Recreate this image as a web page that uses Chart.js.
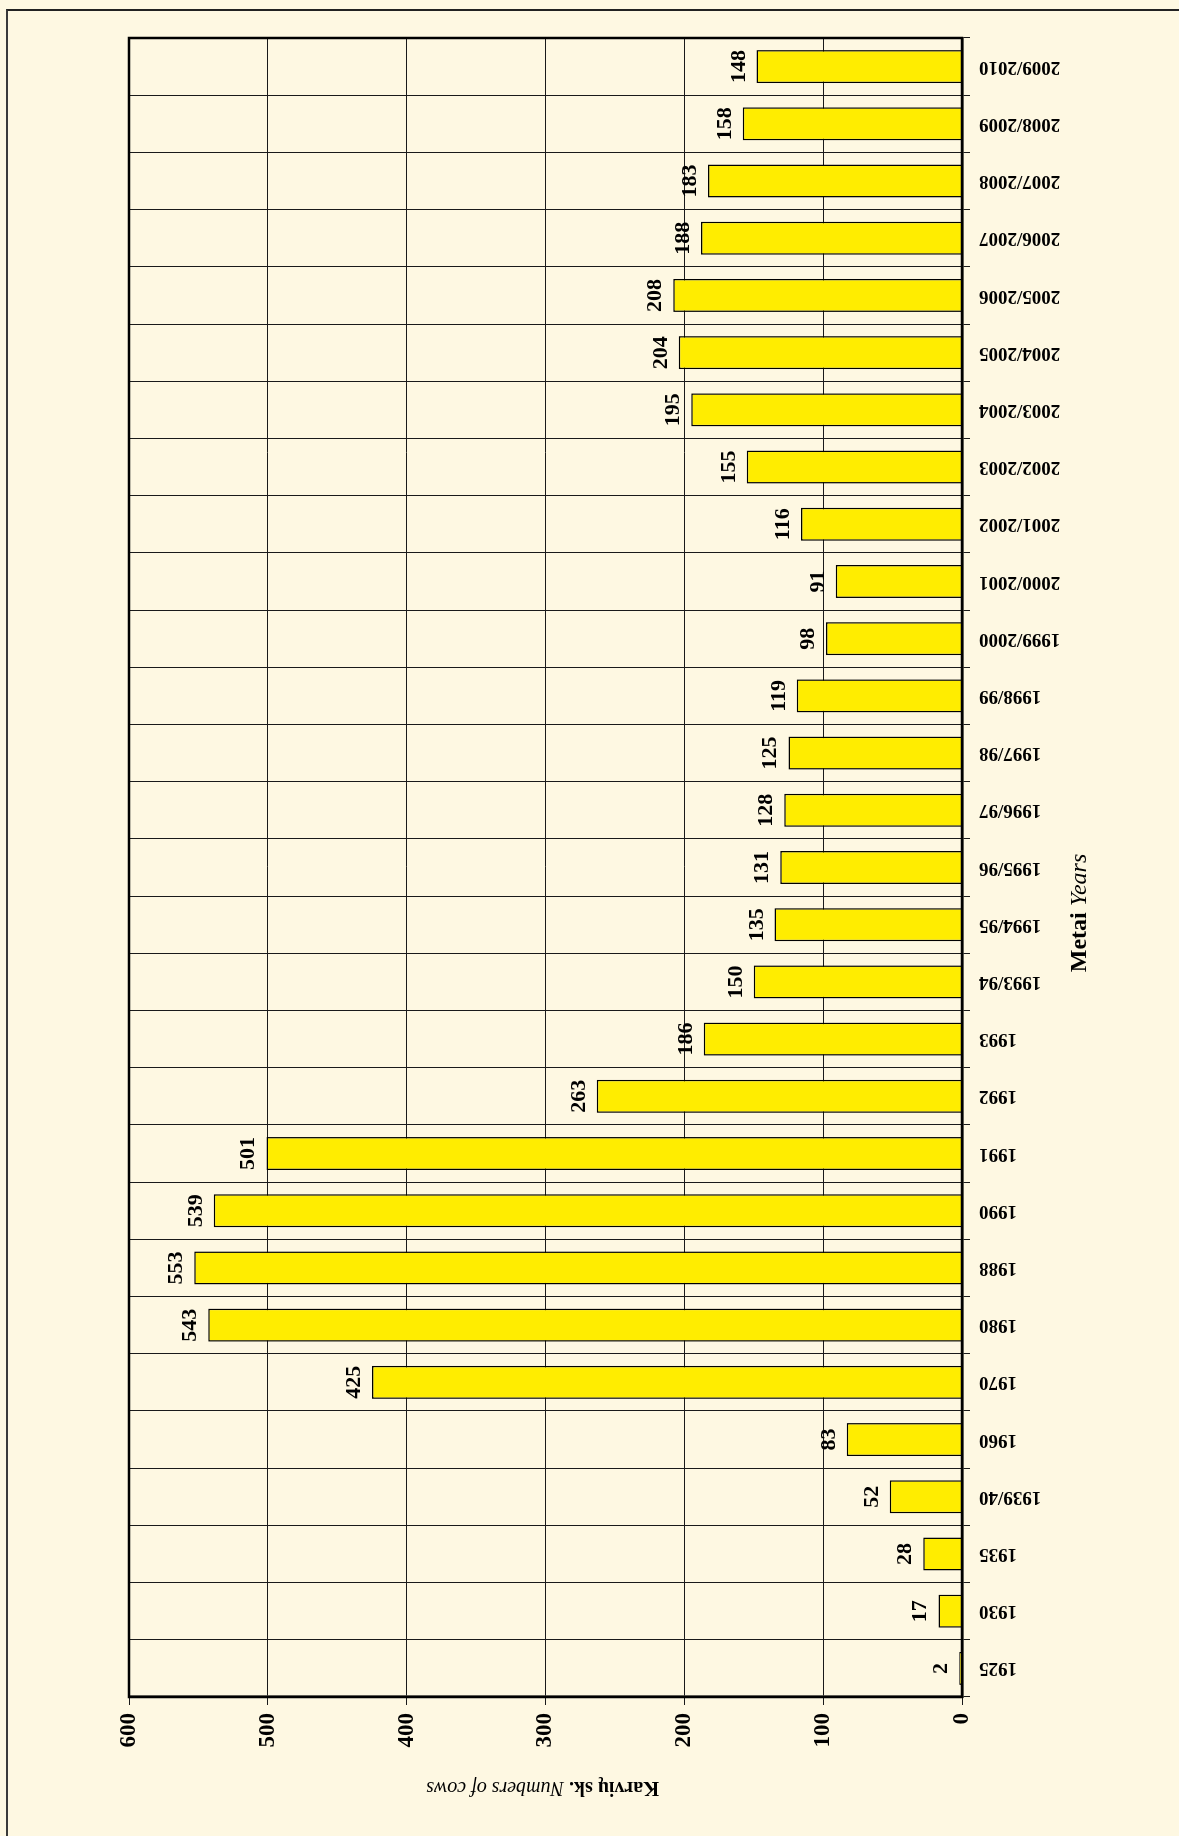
<!DOCTYPE html>
<html>
<head>
<meta charset="utf-8">
<script src="https://cdn.jsdelivr.net/npm/chart.js@4"></script>
<style>
    html, body { margin: 0; padding: 0; overflow: hidden; background: #FEF8E2; }
    body { width: 1179px; height: 1836px; position: relative; }
    /* frame (only top + left survive the crop) */
    #frame {
        position: absolute; left: 6px; top: 9px; right: 0; bottom: 0;
        border-left: 2px solid #3a3a3a; border-top: 2px solid #222;
    }
    /* chart is drawn as a normal column chart, then turned 90deg counter-clockwise */
    #wrap {
        position: absolute; left: 0; top: 0; width: 1836px; height: 1179px;
        transform-origin: 0 0;
        transform: translateY(1836px) rotate(-90deg);
    }
</style>
</head>
<body>
<div id="frame"></div>
<div id="wrap"><canvas id="cows" width="1836" height="1179"></canvas></div>

<script>
// DATA
const years = [
    '1925', '1930', '1935', '1939/40', '1960', '1970', '1980', '1988', '1990', '1991',
    '1992', '1993', '1993/94', '1994/95', '1995/96', '1996/97', '1997/98', '1998/99',
    '1999/2000', '2000/2001', '2001/2002', '2002/2003', '2003/2004', '2004/2005',
    '2005/2006', '2006/2007', '2007/2008', '2008/2009', '2009/2010'
];
const cows = [
    2, 17, 28, 52, 83, 425, 543, 553, 539, 501,
    263, 186, 150, 135, 131, 128, 125, 119,
    98, 91, 116, 155, 195, 204,
    208, 188, 183, 158, 148
];
const valueTicks = [0, 100, 200, 300, 400, 500, 600];
const yTitle = ['Karvių sk. ', 'Numbers of cows'];
const xTitle = ['Metai ', 'Years'];

// LOOK
const THEME = {
    bar: '#FFED00',
    ink: '#000000',
    grid: '#1a1a1a',
    font: '"Liberation Serif", "Times New Roman", serif'
};

// value labels over each column
const barLabels = {
    id: 'barLabels',
    afterDatasetsDraw(chart) {
        const ctx = chart.ctx;
        const meta = chart.getDatasetMeta(0);
        ctx.save();
        ctx.fillStyle = THEME.ink;
        ctx.font = 'bold 22px ' + THEME.font;
        ctx.textAlign = 'center';
        ctx.textBaseline = 'alphabetic';
        meta.data.forEach((bar, i) => {
            ctx.fillText(String(cows[i]), bar.x, bar.y - 12);
        });
        ctx.restore();
    }
};

// two-part axis titles (bold + italic) and the heavy plot frame
function drawMixed(ctx, parts, size) {
    const fonts = ['bold ' + size + 'px ' + THEME.font, 'italic ' + size + 'px ' + THEME.font];
    let total = 0;
    parts.forEach((p, i) => { ctx.font = fonts[i]; total += ctx.measureText(p).width; });
    let x = -total / 2;
    parts.forEach((p, i) => {
        ctx.font = fonts[i];
        ctx.fillText(p, x, 0);
        x += ctx.measureText(p).width;
    });
}

const chrome = {
    id: 'chrome',
    afterDraw(chart) {
        const ctx = chart.ctx;
        const a = chart.chartArea;
        ctx.save();
        ctx.strokeStyle = THEME.ink;
        ctx.lineWidth = 2.5;
        ctx.strokeRect(a.left, a.top, a.right - a.left, a.bottom - a.top);

        ctx.fillStyle = THEME.ink;
        ctx.textAlign = 'left';
        ctx.textBaseline = 'middle';

        // y title, reads bottom to top
        ctx.save();
        ctx.translate(49, (a.top + a.bottom) / 2 - 3);
        ctx.rotate(-Math.PI / 2);
        drawMixed(ctx, yTitle, 20);
        ctx.restore();

        // x title, a bit left of centre as in the source
        ctx.save();
        ctx.translate(923, 1080);
        drawMixed(ctx, xTitle, 24);
        ctx.restore();

        ctx.restore();
    }
};

document.addEventListener('DOMContentLoaded', () => {
    Chart.defaults.font.family = THEME.font;
    Chart.defaults.color = THEME.ink;

    new Chart(document.getElementById('cows'), {
        type: 'bar',
        data: {
            labels: years,
            datasets: [{
                data: cows,
                backgroundColor: THEME.bar,
                borderColor: THEME.ink,
                borderWidth: 1.5,
                categoryPercentage: 1,
                barPercentage: 0.577
            }]
        },
        options: {
            responsive: false,
            animation: false,
            devicePixelRatio: 1,
            layout: { padding: { top: 129, right: 38, left: 0, bottom: 0 } },
            scales: {
                x: {
                    grid: { offset: true, color: THEME.grid, lineWidth: 1, tickLength: 8 },
                    border: { color: THEME.ink, width: 2.5 },
                    ticks: {
                        autoSkip: false,
                        minRotation: 90,
                        maxRotation: 90,
                        padding: 9,
                        color: THEME.ink,
                        font: { size: 19, weight: 'bold' }
                    },
                    afterFit: s => { s.height = 217; }
                },
                y: {
                    min: valueTicks[0],
                    max: valueTicks[valueTicks.length - 1],
                    afterBuildTicks: s => { s.ticks = valueTicks.map(v => ({ value: v })); },
                    grid: { color: THEME.grid, lineWidth: 1, tickLength: 8 },
                    border: { color: THEME.ink, width: 2.5 },
                    ticks: {
                        padding: 8,
                        color: THEME.ink,
                        font: { size: 23, weight: 'bold' }
                    },
                    afterFit: s => { s.width = 139; }
                }
            },
            plugins: {
                legend: { display: false },
                tooltip: { enabled: false }
            }
        },
        plugins: [barLabels, chrome]
    });
});
</script>
</body>
</html>
